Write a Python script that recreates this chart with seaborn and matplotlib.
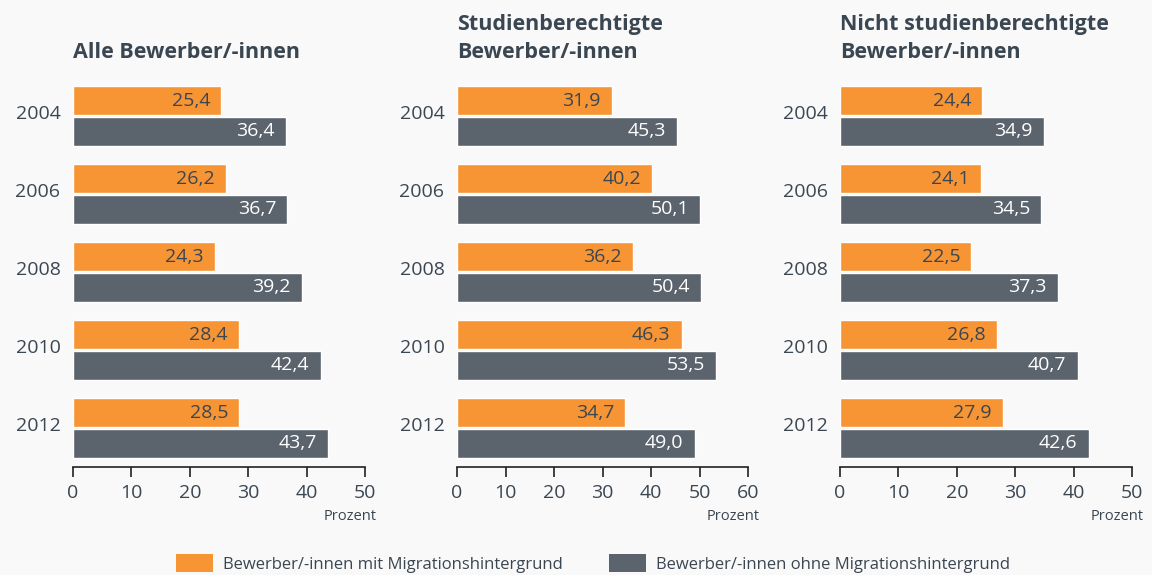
import pandas as pd
import numpy as np
import matplotlib
matplotlib.use("Agg")
import matplotlib.pyplot as plt
import matplotlib.transforms as mtransforms
import seaborn as sns
from matplotlib.patches import Patch

# Daten (Prozent)
years = ['2004', '2006', '2008', '2010', '2012']
groups = ['Bewerber/-innen mit Migrationshintergrund',
          'Bewerber/-innen ohne Migrationshintergrund']

alle_mit = [25.4, 26.2, 24.3, 28.4, 28.5]
alle_ohne = [36.4, 36.7, 39.2, 42.4, 43.7]
stud_mit = [31.9, 40.2, 36.2, 46.3, 34.7]
stud_ohne = [45.3, 50.1, 50.4, 53.5, 49.0]
nicht_mit = [24.4, 24.1, 22.5, 26.8, 27.9]
nicht_ohne = [34.9, 34.5, 37.3, 40.7, 42.6]

panel_titles = ['Alle Bewerber/-innen',
                'Studienberechtigte\nBewerber/-innen',
                'Nicht studienberechtigte\nBewerber/-innen']
panel_data = [(alle_mit, alle_ohne), (stud_mit, stud_ohne), (nicht_mit, nicht_ohne)]
panel_xmax = [50, 60, 50]

ORANGE = '#f79433'
GREY = '#5b636d'
TEXT = '#3a4651'
BG = '#f9f9f9'

sns.set_style("white")
plt.rcParams['font.family'] = ['Open Sans', 'DejaVu Sans']

fig = plt.figure(figsize=(11.52, 5.75), dpi=100, facecolor=BG)

lefts = [73, 457, 840]
widths = [292, 291, 292]
bottom = 1 - 467 / 575
height = (467 - 77) / 575

for i in range(3):
    ax = fig.add_axes([lefts[i] / 1152, bottom, widths[i] / 1152, height])
    ax.set_facecolor(BG)
    mit, ohne = panel_data[i]
    df = pd.DataFrame({
        'Jahr': years * 2,
        'Wert': mit + ohne,
        'Gruppe': [groups[0]] * len(years) + [groups[1]] * len(years),
    })
    sns.barplot(data=df, y='Jahr', x='Wert', hue='Gruppe', orient='h',
                palette=[ORANGE, GREY], width=0.79, gap=0.05,
                legend=False, ax=ax, saturation=1)

    # Werte am Balkenende, rechtsbündig im Balken
    for cont, col in zip(ax.containers, [TEXT, 'white']):
        for bar, v in zip(cont.patches, cont.datavalues):
            y = bar.get_y() + bar.get_height() / 2
            ax.annotate(f"{v:.1f}".replace('.', ','), xy=(bar.get_width(), y),
                        xytext=(-8, 0), textcoords='offset points',
                        ha='right', va='center', color=col, fontsize=14)

    ax.set_xlim(0, panel_xmax[i])
    ax.set_ylim(4.5, -0.5)
    ax.set_xticks(np.arange(0, panel_xmax[i] + 1, 10))
    ax.set_ylabel('')
    ax.set_xlabel('Prozent', fontsize=10.5, color=TEXT)
    ax.xaxis.set_label_coords(1.04, -0.128)
    ax.xaxis.label.set_ha('right')
    ax.xaxis.label.set_va('center')

    for s in ['top', 'right', 'left']:
        ax.spines[s].set_visible(False)
    ax.spines['bottom'].set_color('#222222')
    ax.spines['bottom'].set_linewidth(1.2)
    ax.tick_params(axis='x', bottom=True, direction='out', length=7, width=1.2,
                   color='#222222', labelsize=14, labelcolor=TEXT, pad=5)
    ax.tick_params(axis='y', left=False, length=0, labelsize=14,
                   labelcolor=TEXT, pad=9)
    shift = mtransforms.ScaledTranslation(0, 3 / 72, fig.dpi_scale_trans)
    for lab in ax.get_yticklabels():
        lab.set_transform(lab.get_transform() + shift)

    ax.set_title(panel_titles[i], loc='left', fontsize=15.5, fontweight='bold',
                 color=TEXT, pad=14, linespacing=1.4)

handles = [Patch(facecolor=ORANGE, edgecolor='none'),
           Patch(facecolor=GREY, edgecolor='none')]
leg = fig.legend(handles, groups, loc='center', bbox_to_anchor=(0.515, 0.02),
                 ncol=2, frameon=False, fontsize=12, labelcolor=TEXT,
                 handlelength=2.2, handleheight=1.3, handletextpad=0.6,
                 columnspacing=2.8)

fig.savefig('out.png', dpi=100, facecolor=BG)
